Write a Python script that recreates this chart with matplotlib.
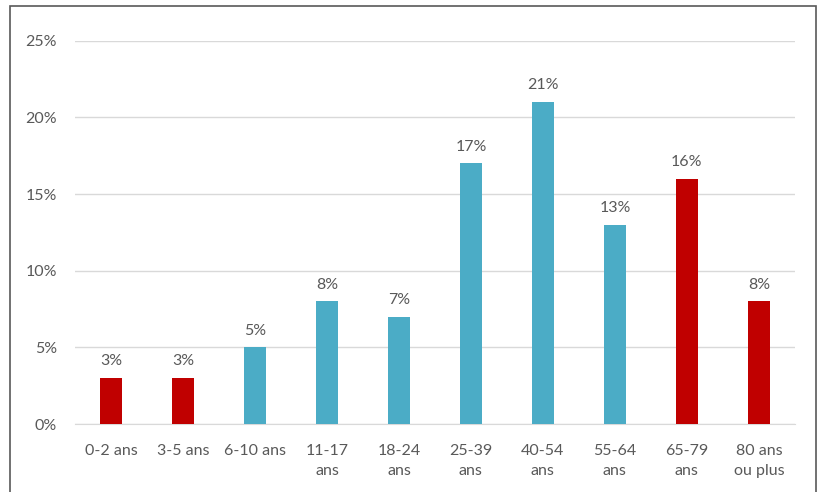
import matplotlib.pyplot as plt
import matplotlib.patches as patches

plt.rcParams['font.family'] = ['Lato', 'DejaVu Sans']

categories = ['0-2 ans', '3-5 ans', '6-10 ans', '11-17\nans', '18-24\nans',
              '25-39\nans', '40-54\nans', '55-64\nans', '65-79\nans', '80 ans\nou plus']
values = [3, 3, 5, 8, 7, 17, 21, 13, 16, 8]
groups = ['r', 'r', 'b', 'b', 'b', 'b', 'b', 'b', 'r', 'r']
yticks = [0, 5, 10, 15, 20, 25]

col = {'r': '#C00000', 'b': '#4BACC6'}
txt = '#595959'
fs = 11.5

fig = plt.figure(figsize=(8.18, 4.92), dpi=100)
ax = fig.add_axes([0.0917, 0.138, 0.880, 0.779])

x = range(len(categories))
ax.bar(x, values, width=0.31, color=[col[g] for g in groups], zorder=3)
for i, v in zip(x, values):
    ax.annotate(f'{v}%', (i, v), xytext=(0, 7), textcoords='offset points',
                ha='center', va='bottom', fontsize=fs, color=txt)

ax.set_xlim(-0.5, len(categories) - 0.5)
ax.set_ylim(0, 25)
ax.set_yticks(yticks)
ax.set_yticklabels([f'{t}%' for t in yticks], fontsize=fs, color=txt)
ax.set_xticks(list(x))
ax.set_xticklabels(categories, fontsize=fs, color=txt, linespacing=1.55)
ax.tick_params(axis='both', length=0)
ax.tick_params(axis='y', pad=13)
ax.tick_params(axis='x', pad=14)
ax.grid(axis='y', color='#D9D9D9', linewidth=1, zorder=0)
for s in ['top', 'right', 'left']:
    ax.spines[s].set_visible(False)
ax.spines['bottom'].set_color('#D9D9D9')

# outer frame of the chart
frame = patches.Rectangle((10 / 818, -0.05), 806 / 818, 1.05 - 6 / 492,
                          transform=fig.transFigure, fill=False,
                          edgecolor='#595959', linewidth=1.2, clip_on=False)
fig.patches.append(frame)

fig.savefig('out.png', dpi=100)
